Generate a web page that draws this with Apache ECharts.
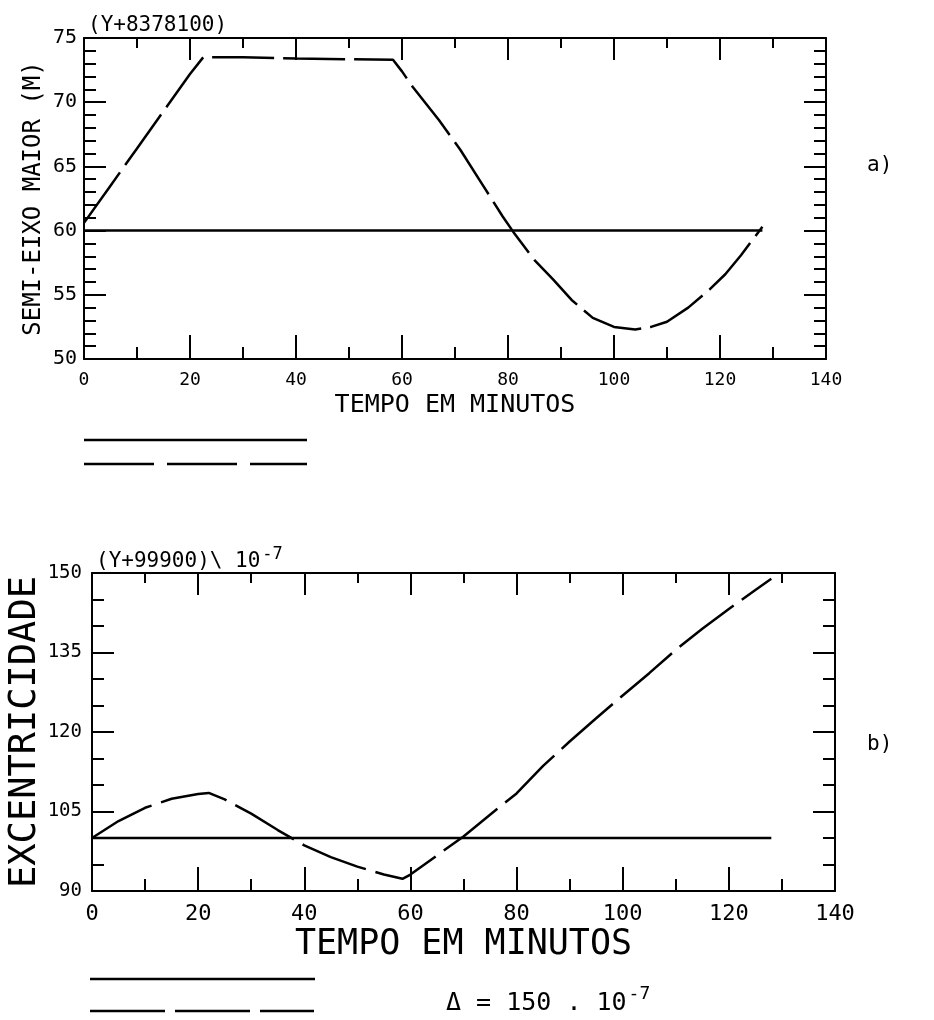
<!DOCTYPE html>
<html>
<head>
<meta charset="utf-8">
<script src="https://cdn.jsdelivr.net/npm/echarts@6/dist/echarts.min.js"></script>
<style>
html,body{margin:0;padding:0;background:#fff;}
#chart{width:934px;height:1020px;}
</style>
</head>
<body>
<div id="chart"></div>
<script>
// ---- Data ----
const xTickLabels = [0, 20, 40, 60, 80, 100, 120, 140];
// Panel a) semi-eixo maior (Y+8378100) in metres
const timeA = [0, 5, 10, 15, 20, 22.5, 30, 40, 50, 58.3, 60, 62, 64.5, 67, 71, 75, 79, 81, 85, 88.5, 92, 96, 100, 104, 107, 110, 114, 118, 121, 124, 128];
const semiEixoPerturbed = [60.6, 63.5, 66.4, 69.3, 72.2, 73.5, 73.5, 73.4, 73.35, 73.3, 72.4, 71.2, 69.9, 68.6, 66.3, 63.7, 61.1, 59.9, 57.7, 56.2, 54.6, 53.2, 52.5, 52.3, 52.5, 52.9, 54.0, 55.4, 56.6, 58.1, 60.3];
const timeRefA = [0, 128];
const semiEixoRef = [60, 60];
// Panel b) excentricidade (Y+99900) 10^-7
const timeB = [0, 5, 10, 15, 20, 22, 25, 30, 35, 40, 45, 50, 55, 58.5, 60, 65, 70, 75, 80, 85, 90, 95, 100, 105, 110, 115, 120, 125, 128];
const excPerturbed = [100.0, 103.2, 105.7, 107.4, 108.3, 108.5, 107.3, 104.6, 101.5, 98.6, 96.4, 94.6, 93.1, 92.3, 93.1, 96.7, 100.3, 104.4, 108.4, 113.6, 118.2, 122.6, 126.9, 131.1, 135.5, 139.5, 143.2, 146.8, 148.9];
const timeRefB = [0, 128];
const excRef = [100, 100];

const FONT = 'DejaVu Sans Mono';
const pairs = (xs, ys) => xs.map((x, i) => [x, ys[i]]);
const axisLine = { show: true, onZero: false, lineStyle: { color: '#000', width: 2 } };

function xAxes(gridIndex, labelSize, name, nameSize, nameGap) {
  return [{
    type: 'value', gridIndex, position: 'bottom', min: 0, max: 140, interval: 20,
    name, nameLocation: 'middle', nameGap, nameMoveOverlap: false,
    nameTextStyle: { fontFamily: FONT, fontSize: nameSize, color: '#000' },
    axisLine,
    axisTick: { show: true, inside: true, length: 24, lineStyle: { color: '#000', width: 2 } },
    minorTick: { show: true, splitNumber: 2, length: 12, lineStyle: { color: '#000', width: 2 } },
    axisLabel: { fontFamily: FONT, fontSize: labelSize, color: '#000', margin: 12,
      formatter: v => xTickLabels.includes(v) ? String(v) : '' },
    splitLine: { show: false }, minorSplitLine: { show: false }
  }, {
    type: 'value', gridIndex, position: 'top', min: 0, max: 140, interval: 20,
    axisLine,
    axisTick: { show: true, inside: true, length: 22, lineStyle: { color: '#000', width: 2 } },
    minorTick: { show: true, splitNumber: 2, length: 10, lineStyle: { color: '#000', width: 2 } },
    axisLabel: { show: false },
    splitLine: { show: false }, minorSplitLine: { show: false }
  }];
}

function yAxes(gridIndex, min, max, interval, minorSplit, labelSize, labelMargin, name, nameSize, nameGap) {
  return [{
    type: 'value', gridIndex, position: 'left', min, max, interval,
    name, nameLocation: 'middle', nameGap, nameRotate: 90, nameMoveOverlap: false,
    nameTextStyle: { fontFamily: FONT, fontSize: nameSize, color: '#000' },
    axisLine,
    axisTick: { show: true, inside: true, length: 22, lineStyle: { color: '#000', width: 2 } },
    minorTick: { show: true, splitNumber: minorSplit, length: 12, lineStyle: { color: '#000', width: 2 } },
    axisLabel: { fontFamily: FONT, fontSize: labelSize, color: '#000', margin: labelMargin },
    splitLine: { show: false }, minorSplitLine: { show: false }
  }, {
    type: 'value', gridIndex, position: 'right', min, max, interval,
    axisLine,
    axisTick: { show: true, inside: true, length: 22, lineStyle: { color: '#000', width: 2 } },
    minorTick: { show: true, splitNumber: minorSplit, length: 12, lineStyle: { color: '#000', width: 2 } },
    axisLabel: { show: false },
    splitLine: { show: false }, minorSplitLine: { show: false }
  }];
}

const chart = echarts.init(document.getElementById('chart'), null, { renderer: 'canvas' });
const solid = { color: '#000', width: 2.5, type: 'solid' };
const dashedA = { color: '#000', width: 2.5, type: [62, 9] };
const dashedB = { color: '#000', width: 2.5, type: [68, 10] };

chart.setOption({
  backgroundColor: '#fff',
  animation: false,
  grid: [
    { left: 84, top: 38, width: 742, height: 321, containLabel: false, outerBoundsMode: 'none' },
    { left: 92, top: 573, width: 743, height: 318, containLabel: false, outerBoundsMode: 'none' }
  ],
  xAxis: [
    ...xAxes(0, 18, 'TEMPO EM MINUTOS', 25, 34),
    ...xAxes(1, 22, 'TEMPO EM MINUTOS', 35, 36)
  ],
  yAxis: [
    ...yAxes(0, 50, 75, 5, 5, 20, 7, 'SEMI-EIXO MAIOR (M)', 24, 38),
    ...yAxes(1, 90, 150, 15, 3, 19, 10, 'EXCENTRICIDADE', 37, 48)
  ],
  series: [
    { type: 'line', xAxisIndex: 0, yAxisIndex: 0, data: pairs(timeRefA, semiEixoRef), showSymbol: false, lineStyle: solid },
    { type: 'line', xAxisIndex: 0, yAxisIndex: 0, data: pairs(timeA, semiEixoPerturbed), showSymbol: false, lineStyle: dashedA },
    { type: 'line', xAxisIndex: 2, yAxisIndex: 2, data: pairs(timeRefB, excRef), showSymbol: false, lineStyle: solid },
    { type: 'line', xAxisIndex: 2, yAxisIndex: 2, data: pairs(timeB, excPerturbed), showSymbol: false, lineStyle: dashedB }
  ],
  graphic: [
    { type: 'text', left: 88, top: 15, style: { text: '(Y+8378100)', font: '21px "DejaVu Sans Mono"', fill: '#000' } },
    { type: 'text', left: 96, top: 546, style: { text: '(Y+99900)\\ 10{sup|-7}', font: '21px "DejaVu Sans Mono"', fill: '#000',
        rich: { sup: { fontFamily: FONT, fontSize: 17, padding: [0, 0, 14, 2] } } } },
    { type: 'text', left: 867, top: 155, style: { text: 'a)', font: '21px "DejaVu Sans Mono"', fill: '#000' } },
    { type: 'text', left: 867, top: 734, style: { text: 'b)', font: '21px "DejaVu Sans Mono"', fill: '#000' } },
    { type: 'text', left: 446, top: 985, style: { text: 'Δ = 150 . 10{sup|-7}', font: '25px "DejaVu Sans Mono"', fill: '#000',
        rich: { sup: { fontFamily: FONT, fontSize: 18, padding: [0, 0, 18, 2] } } } },
    // legend sample lines
    { type: 'line', shape: { x1: 84, y1: 440, x2: 307, y2: 440 }, style: { stroke: '#000', lineWidth: 2.5 } },
    { type: 'line', shape: { x1: 84, y1: 464, x2: 307, y2: 464 }, style: { stroke: '#000', lineWidth: 2.5, lineDash: [70, 13] } },
    { type: 'line', shape: { x1: 90, y1: 979, x2: 315, y2: 979 }, style: { stroke: '#000', lineWidth: 2.5 } },
    { type: 'line', shape: { x1: 90, y1: 1011, x2: 314, y2: 1011 }, style: { stroke: '#000', lineWidth: 2.5, lineDash: [75, 10] } }
  ]
});
</script>
</body>
</html>
